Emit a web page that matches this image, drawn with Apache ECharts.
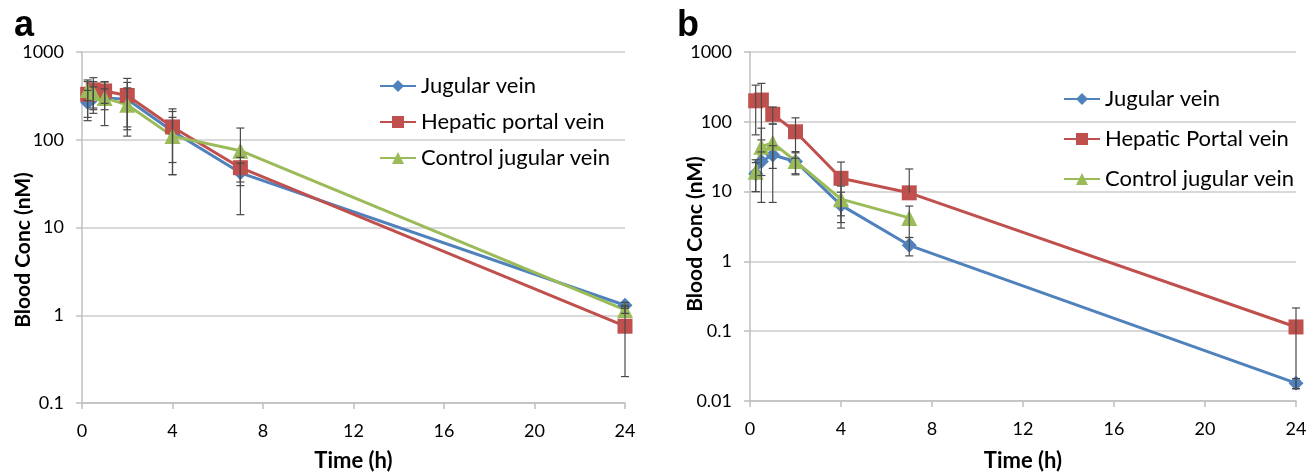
<!DOCTYPE html>
<html>
<head>
<meta charset="utf-8">
<script src="https://cdn.jsdelivr.net/npm/echarts@6/dist/echarts.min.js"></script>
<style>
html, body { margin: 0; padding: 0; background: #fff; }
#main { width: 1311px; height: 472px; }
</style>
</head>
<body>
<div id="main"></div>
<script>
// time points (h)
var times = [0.25, 0.5, 1, 2, 4, 7, 24];
var timesControlB = [0.25, 0.5, 1, 2, 4, 7];

// panel a: mean and SD (nM)
var aJugular = [265, 300, 300, 290, 125, 42, 1.3];
var aJugularSD = [100, 100, 80, 160, 85, 12, 0.1];
var aHepatic = [330, 370, 360, 320, 140, 48, 0.75];
var aHepaticSD = [150, 140, 100, 180, 85, 15, 0.55];
var aControl = [370, 340, 300, 250, 110, 75, 1.15];
var aControlSD = [90, 120, 155, 140, 70, 61, 0.1];

// panel b: mean and SD (nM)
var bJugular = [18, 27, 33.5, 27, 6.4, 1.7, 0.018];
var bJugularSD = [8, 10, 12, 9, 3.4, 0.5, 0.003];
var bHepatic = [200, 205, 128, 72, 15.5, 9.6, 0.115];
var bHepaticSD = [135, 150, 35, 42, 11, 11.5, 0.1];
var bControl = [19.3, 44, 50, 27.4, 7.8, 4.2];
var bControlSD = [9.3, 37, 43, 10, 4.2, 2];

var namesA = ['Jugular vein', 'Hepatic portal vein', 'Control jugular vein'];
var namesB = ['Jugular vein', 'Hepatic Portal vein', 'Control jugular vein'];
var yTitle = 'Blood Conc (nM)';

var BLUE = '#4F81BD', RED = '#C0504D', GREEN = '#9BBB59';
var FONT = 'Lato';

var pairs = (xs, ys) => xs.map((x, i) => [x, ys[i]]);
var bars = (xs, ys, sd) => xs.map((x, i) => [x, ys[i] - sd[i], ys[i] + sd[i], ys[i]]);

function errorBarItem(params, api) {
    var x = api.value(0), lo = api.value(1), hi = api.value(2), v = api.value(3);
    var top = api.coord([x, hi]);
    var bottom = api.coord([x, lo > 0 ? lo : v]);
    var w = 4;
    var st = { stroke: '#4a4a4a', lineWidth: 1.2 };
    var children = [
        { type: 'line', shape: { x1: top[0], y1: top[1], x2: bottom[0], y2: bottom[1] }, style: st },
        { type: 'line', shape: { x1: top[0] - w, y1: top[1], x2: top[0] + w, y2: top[1] }, style: st }
    ];
    if (lo > 0) {
        children.push({ type: 'line', shape: { x1: bottom[0] - w, y1: bottom[1], x2: bottom[0] + w, y2: bottom[1] }, style: st });
    }
    return { type: 'group', children: children };
}

function lineSeries(name, data, color, symbol, size, idx) {
    return {
        name: name, type: 'line', data: data,
        xAxisIndex: idx, yAxisIndex: idx,
        symbol: symbol, symbolSize: size,
        showAllSymbol: true,
        lineStyle: { color: color, width: 3 },
        itemStyle: { color: color },
        emphasis: { disabled: true },
        animation: false, z: 3
    };
}

function errSeries(data, idx) {
    return {
        type: 'custom', renderItem: errorBarItem, data: data,
        xAxisIndex: idx, yAxisIndex: idx,
        encode: { x: 0, y: [1, 2] },
        animation: false, silent: true, z: 4
    };
}

function xAxis(idx, gap) {
    return {
        type: 'value', gridIndex: idx, min: 0, max: 24, interval: 4,
        name: 'Time (h)', nameLocation: 'middle', nameGap: gap,
        nameTextStyle: { fontFamily: FONT, fontSize: 22, fontWeight: 'bold', color: '#000' },
        axisLine: { onZero: false, lineStyle: { color: '#BFBFBF', width: 1.5 } },
        axisTick: { length: 6, lineStyle: { color: '#BFBFBF', width: 1.5 } },
        axisLabel: { fontFamily: FONT, fontSize: 18, color: '#000', margin: 19 },
        splitLine: { show: false }
    };
}

function yAxis(idx, min) {
    return {
        type: 'log', logBase: 10, gridIndex: idx, min: min, max: 1000,
        axisLine: { show: true, lineStyle: { color: '#BFBFBF', width: 1.5 } },
        axisTick: { show: true, length: 6, lineStyle: { color: '#BFBFBF', width: 1.5 } },
        axisLabel: {
            fontFamily: FONT, fontSize: 18, color: '#000', margin: 18,
            formatter: v => String(+Number(v).toPrecision(6))
        },
        splitLine: { lineStyle: { color: '#CCCCCC', width: 1.5 } },
        minorTick: { show: false }
    };
}

function legend(names, left, top, gap) {
    return {
        orient: 'vertical', left: left, top: top, data: names, padding: 0,
        itemWidth: 36, itemHeight: 15, itemGap: gap,
        textStyle: { fontFamily: FONT, fontSize: 22, color: '#000' },
        selectedMode: false
    };
}

function sideTitle(x, y) {
    return {
        type: 'text', x: x, y: y, rotation: Math.PI / 2,
        style: {
            text: yTitle, align: 'center', verticalAlign: 'middle',
            font: 'bold 21px ' + FONT, fill: '#000'
        }
    };
}

var myChart = echarts.init(document.getElementById('main'));
var option = {
    backgroundColor: '#fff',
    animation: false,
    grid: [
        { left: 82, top: 52, width: 543, height: 351, outerBoundsMode: 'none' },
        { left: 750, top: 52, width: 546, height: 349, outerBoundsMode: 'none' }
    ],
    xAxis: [xAxis(0, 47), xAxis(1, 49)],
    yAxis: [yAxis(0, 0.1), yAxis(1, 0.01)],
    legend: [legend(namesA, 379, 75, 14), legend(namesB, 1063, 88, 18)],
    graphic: [
        { type: 'text', left: 14, top: 8, style: { text: 'a', font: 'bold 36px "Liberation Sans"', fill: '#000' } },
        { type: 'text', left: 677, top: 8, style: { text: 'b', font: 'bold 36px "Liberation Sans"', fill: '#000' } },
        sideTitle(23, 250),
        sideTitle(695, 234)
    ],
    series: [
        errSeries(bars(times, aJugular, aJugularSD), 0),
        errSeries(bars(times, aHepatic, aHepaticSD), 0),
        errSeries(bars(times, aControl, aControlSD), 0),
        lineSeries(namesA[0], pairs(times, aJugular), BLUE, 'diamond', 15, 0),
        lineSeries(namesA[1], pairs(times, aHepatic), RED, 'rect', 15, 0),
        lineSeries(namesA[2], pairs(times, aControl), GREEN, 'triangle', 16, 0),

        errSeries(bars(times, bJugular, bJugularSD), 1),
        errSeries(bars(times, bHepatic, bHepaticSD), 1),
        errSeries(bars(timesControlB, bControl, bControlSD), 1),
        lineSeries(namesB[0], pairs(times, bJugular), BLUE, 'diamond', 15, 1),
        lineSeries(namesB[1], pairs(times, bHepatic), RED, 'rect', 15, 1),
        lineSeries(namesB[2], pairs(timesControlB, bControl), GREEN, 'triangle', 16, 1)
    ]
};
myChart.setOption(option);
</script>
</body>
</html>
